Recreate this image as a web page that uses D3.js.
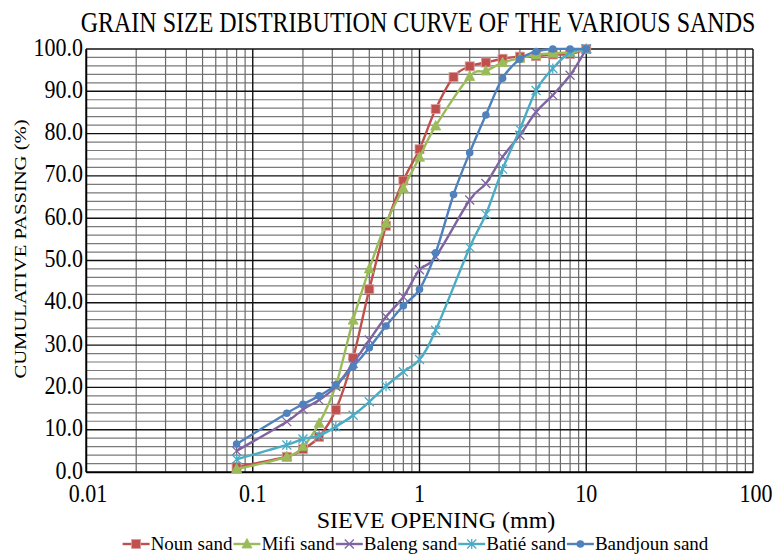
<!DOCTYPE html>
<html>
<head>
<meta charset="utf-8">
<script src="https://cdn.jsdelivr.net/npm/d3@7"></script>
<style>
  html, body { margin: 0; padding: 0; background: #fff; }
  svg { display: block; }
  text { font-family: "Liberation Serif", "Times New Roman", serif; fill: #000; }
</style>
</head>
<body>
<svg id="chart" width="778" height="555"></svg>
<script>
// ---- data ----
const titleText = "GRAIN SIZE DISTRIBUTION CURVE OF THE VARIOUS SANDS";
const xTitle = "SIEVE OPENING (mm)";
const yTitle = "CUMULATIVE PASSING (%)";
const xTicks = [0.01, 0.1, 1, 10, 100];
const xTickLabels = ["0.01", "0.1", "1", "10", "100"];
const yTicks = [0, 10, 20, 30, 40, 50, 60, 70, 80, 90, 100];

const seriesNames = ["Noun sand", "Mifi sand", "Baleng sand", "Batié sand", "Bandjoun sand"];
const seriesColors = ["#C0504D", "#9BBB59", "#8064A2", "#4BACC6", "#4F81BD"];
const seriesMarkers = ["square", "triangle", "cross", "star", "circle"];

const nounSieves = [0.08, 0.16, 0.2, 0.25, 0.315, 0.4, 0.5, 0.63, 0.8, 1, 1.25, 1.6, 2, 2.5, 3.15, 4, 5, 6.3, 8, 10];
const nounValues = [1.2, 3.6, 5.4, 8.3, 14.7, 27.0, 43.2, 58.2, 68.9, 76.3, 85.8, 93.4, 95.9, 96.8, 97.7, 98.2, 98.3, 98.7, 98.8, 100];

const mifiSieves = [0.08, 0.16, 0.2, 0.25, 0.315, 0.4, 0.5, 0.63, 0.8, 1, 1.25, 2, 2.5, 3.15, 4, 5, 6.3, 8, 10];
const mifiValues = [0.7, 3.6, 6.0, 11.5, 20.5, 35.9, 48.0, 58.8, 67.1, 74.4, 81.8, 93.5, 94.8, 96.8, 97.8, 98.6, 99.0, 99.2, 100];

const balengSieves = [0.08, 0.16, 0.2, 0.25, 0.315, 0.4, 0.5, 0.63, 0.8, 1, 1.25, 2, 2.5, 3.15, 4, 5, 6.3, 8, 10];
const balengValues = [5.0, 11.9, 14.8, 17.0, 20.2, 25.7, 31.2, 36.7, 41.4, 47.8, 50.9, 64.3, 68.2, 74.5, 79.6, 85.1, 89.1, 93.8, 100];

const batieSieves = [0.08, 0.16, 0.2, 0.25, 0.315, 0.4, 0.5, 0.63, 0.8, 1, 1.25, 2, 2.5, 3.15, 4, 5, 6.3, 8, 10];
const batieValues = [3.0, 6.4, 7.8, 8.6, 10.7, 13.4, 16.6, 20.3, 23.7, 26.6, 33.5, 53.1, 60.9, 71.6, 81.0, 90.2, 95.4, 99.2, 100];

const bandjounSieves = [0.08, 0.16, 0.2, 0.25, 0.315, 0.4, 0.5, 0.63, 0.8, 1, 1.25, 1.6, 2, 2.5, 3.15, 4, 5, 6.3, 8, 10];
const bandjounValues = [6.6, 13.9, 16.0, 18.0, 20.6, 24.9, 29.4, 34.5, 39.3, 43.2, 51.8, 65.6, 75.5, 84.4, 93.1, 97.6, 99.4, 100, 100, 100];

const allSieves = [nounSieves, mifiSieves, balengSieves, batieSieves, bandjounSieves];
const allValues = [nounValues, mifiValues, balengValues, batieValues, bandjounValues];

// ---- chart ----
const svg = d3.select("#chart");
const plot = { left: 86, right: 753, top: 49, bottom: 472 };
const SY = 1.15; // vertical stretch of text in the reference

const x = d3.scaleLog().domain([0.01, 100]).range([plot.left, plot.right]);
const y = d3.scaleLinear().domain([0, 100]).range([plot.bottom, plot.top]);

function stext(g, str, px, py, size, anchor, sy) {
  return g.append("text")
    .attr("transform", `translate(${px},${py}) scale(1,${sy || SY})`)
    .attr("text-anchor", anchor || "start")
    .style("font-size", size + "px")
    .text(str);
}

// grid: minor horizontal (every 2)
const gGrid = svg.append("g");
const minorY = d3.range(0, 101, 2).filter(v => v % 10 !== 0);
gGrid.selectAll("line.hmin").data(minorY).enter().append("line")
  .attr("x1", plot.left).attr("x2", plot.right)
  .attr("y1", d => y(d)).attr("y2", d => y(d))
  .attr("stroke", "#7a7a7a").attr("stroke-width", 1.2);

// minor vertical
const minorX = [];
[0.01, 0.1, 1, 10].forEach(dec => { for (let k = 2; k <= 9; k++) minorX.push(dec * k); });
gGrid.selectAll("line.vmin").data(minorX).enter().append("line")
  .attr("x1", d => x(d)).attr("x2", d => x(d))
  .attr("y1", plot.top).attr("y2", plot.bottom)
  .attr("stroke", "#6a6a6a").attr("stroke-width", 1.2);

// major horizontal
gGrid.selectAll("line.hmaj").data(yTicks).enter().append("line")
  .attr("x1", plot.left).attr("x2", plot.right)
  .attr("y1", d => y(d)).attr("y2", d => y(d))
  .attr("stroke", "#111").attr("stroke-width", 1.4);

// major vertical
gGrid.selectAll("line.vmaj").data(xTicks).enter().append("line")
  .attr("x1", d => x(d)).attr("x2", d => x(d))
  .attr("y1", plot.top).attr("y2", plot.bottom)
  .attr("stroke", "#111").attr("stroke-width", 1.4);

// axes (lines via d3 axis, no tick marks)
const xAxis = d3.axisBottom(x).tickValues(xTicks).tickSize(0).tickFormat("");
const yAxis = d3.axisLeft(y).tickValues(yTicks).tickSize(0).tickFormat("");
svg.append("g").attr("transform", `translate(0,${plot.bottom})`).call(xAxis)
  .select(".domain").attr("stroke", "#000").attr("stroke-width", 1.5);
svg.append("g").attr("transform", `translate(${plot.left},0)`).call(yAxis)
  .select(".domain").attr("stroke", "#000").attr("stroke-width", 1.5);

// tick labels
const gLab = svg.append("g");
yTicks.forEach(v => stext(gLab, v.toFixed(1), 83, y(v) + 6.5, 22, "end"));
xTicks.forEach((v, i) => {
  const px = i === 0 ? x(v) + 2 : (i === xTicks.length - 1 ? x(v) + 3 : x(v));
  stext(gLab, xTickLabels[i], px, 502, 22, "middle", 1.12);
});

// titles
stext(svg, titleText, 418, 32, 24, "middle", 1.22);
stext(svg, xTitle, 436, 528, 24, "middle", 1.0);
svg.append("text")
  .attr("transform", `translate(26,249) rotate(-90) scale(1.25,1)`)
  .attr("text-anchor", "middle")
  .style("font-size", "16.5px")
  .text(yTitle);

// markers
function drawMarker(g, type, cx, cy, color) {
  if (type === "square") {
    g.append("rect").attr("x", cx - 4.5).attr("y", cy - 4.5).attr("width", 9).attr("height", 9)
      .attr("fill", color).attr("stroke", "#d9a09e").attr("stroke-width", 0.8);
  } else if (type === "triangle") {
    g.append("path").attr("d", `M${cx},${cy - 5.5}L${cx + 5},${cy + 4}L${cx - 5},${cy + 4}Z`)
      .attr("fill", color).attr("stroke", color).attr("stroke-width", 0.8);
  } else if (type === "cross") {
    g.append("path").attr("d", `M${cx - 4.5},${cy - 4.5}L${cx + 4.5},${cy + 4.5}M${cx - 4.5},${cy + 4.5}L${cx + 4.5},${cy - 4.5}`)
      .attr("stroke", color).attr("stroke-width", 1.3).attr("fill", "none");
  } else if (type === "star") {
    g.append("path").attr("d", `M${cx - 4.5},${cy - 4.5}L${cx + 4.5},${cy + 4.5}M${cx - 4.5},${cy + 4.5}L${cx + 4.5},${cy - 4.5}M${cx},${cy - 5}L${cx},${cy + 5}`)
      .attr("stroke", color).attr("stroke-width", 1.3).attr("fill", "none");
  } else {
    g.append("circle").attr("cx", cx).attr("cy", cy).attr("r", 3.8).attr("fill", color);
  }
}

// series
const line = d3.line()
  .x(d => x(d[0])).y(d => y(d[1]))
  .curve(d3.curveCatmullRom.alpha(0));

const gSeries = svg.append("g");
seriesNames.forEach((name, i) => {
  const pts = allSieves[i].map((s, j) => [s, allValues[i][j]]);
  const g = gSeries.append("g");
  g.append("path").datum(pts).attr("d", line)
    .attr("fill", "none").attr("stroke", seriesColors[i]).attr("stroke-width", 2.4)
    .attr("stroke-linejoin", "round");
  pts.forEach(p => drawMarker(g, seriesMarkers[i], x(p[0]), y(p[1]), seriesColors[i]));
});

// legend
const gLeg = svg.append("g");
const legY = 544;
const legFont = 19;
const widths = seriesNames.map(n => {
  const t = gLeg.append("text").style("font-size", legFont + "px").text(n);
  const w = t.node().getComputedTextLength();
  t.remove();
  return w;
});
const lineLen = 27, gap = 1, after = 1;
const total = d3.sum(widths) + seriesNames.length * (lineLen + gap + after);
let lx = 416 - total / 2;
seriesNames.forEach((n, i) => {
  gLeg.append("line").attr("x1", lx).attr("x2", lx + lineLen).attr("y1", legY).attr("y2", legY)
    .attr("stroke", seriesColors[i]).attr("stroke-width", 2.4);
  drawMarker(gLeg, seriesMarkers[i], lx + lineLen / 2, legY, seriesColors[i]);
  stext(gLeg, n, lx + lineLen + gap, legY + 6, legFont, "start", 1.0);
  lx += lineLen + gap + widths[i] + after;
});
</script>
</body>
</html>
